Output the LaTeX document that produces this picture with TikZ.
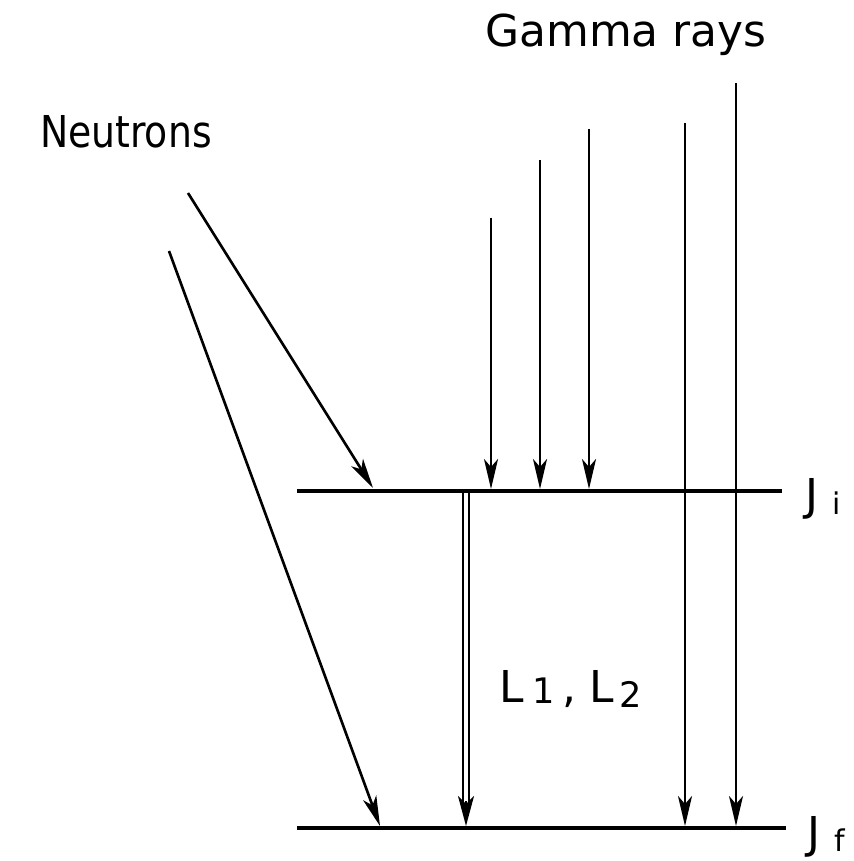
\documentclass[tikz,border=0pt]{standalone}
\usepackage{fontspec}
\setmainfont{DejaVu Sans}
\usetikzlibrary{arrows.meta}
\begin{document}
\begin{tikzpicture}[x=0.02cm,y=-0.02cm,
  level/.style={line width=2.2pt},
  tip/.style={-{Stealth[length=0.6cm,width=0.28cm,inset=0.16cm]}},
  ray/.style={line width=1.5pt,tip},
  lbl/.style={inner sep=0pt,font=\fontsize{25}{30}\selectfont}]
\useasboundingbox (0,0) rectangle (854,861);
% level lines
\coordinate (ia) at (297,491);
\coordinate (ib) at (782,491);
\coordinate (fa) at (297,828);
\coordinate (fb) at (786,828);
\draw[level] (ia) -- (ib);
\draw[level] (fa) -- (fb);
% labels
\node[lbl,anchor=base east,xscale=0.86] (neut) at (212,148) {Neutrons};
\node[lbl,anchor=base east] (gamma) at (767,47) {Gamma rays};
\node[lbl,anchor=base west] (ji) at (805,510) {J\hspace{8pt}\raisebox{-2.5pt}{\fontsize{17}{20}\selectfont i}};
\node[lbl,anchor=base west] (jf) at (807,848) {J\hspace{8pt}\raisebox{-2pt}{\fontsize{17}{20}\selectfont f}};
\node[lbl,anchor=base west] (ll) at (499,702) {L\hspace{5pt}\raisebox{-1pt}{\fontsize{20}{22}\selectfont 1}\hspace{4pt},\hspace{8pt}L\hspace{3pt}\raisebox{-3pt}{\fontsize{20}{22}\selectfont 2}};
% neutron arrows
\coordinate (n1s) at (188,193);
\coordinate (n1e) at (373,488);
\coordinate (n2s) at (169,251);
\coordinate (n2e) at (380,826);
\draw[ray] (n1s) -- (n1e);
\draw[ray] (n2s) -- (n2e);
% gamma arrows
\foreach \x/\y/\e [count=\i] in {491/218/489, 540/160/489, 589/129/489, 685/123/826, 736/83/826}{
  \coordinate (g\i s) at (\x,\y);
  \coordinate (g\i e) at (\x,\e);
  \draw[ray] (g\i s) -- (g\i e);
}
% double arrow L1, L2
\coordinate (ds) at (466,492);
\coordinate (de) at (466,826);
\coordinate (dm) at (466,806);
\draw[line width=1.3pt] ([xshift=-0.065cm]ds) -- ([xshift=-0.065cm]dm);
\draw[line width=1.3pt] ([xshift=0.065cm]ds) -- ([xshift=0.065cm]dm);
\draw[line width=1.3pt,-{Stealth[length=0.6cm,width=0.32cm,inset=0.16cm]}] ([yshift=0.5cm]de) -- (de);
\end{tikzpicture}
\end{document}
